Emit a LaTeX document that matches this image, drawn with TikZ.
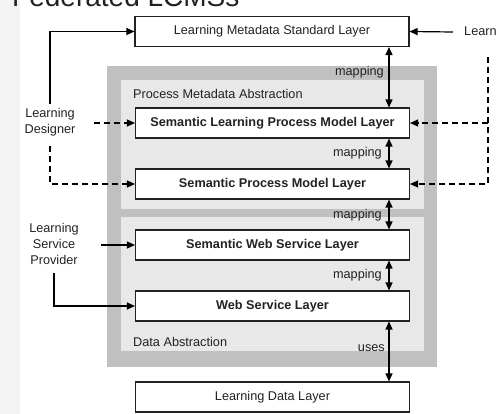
\documentclass[tikz,border=0pt]{standalone}
\usepackage{fontspec}
\setmainfont{Liberation Sans}
\usetikzlibrary{arrows.meta}
\definecolor{outergray}{HTML}{C0C0C0}
\definecolor{innergray}{HTML}{E8E8E8}
\definecolor{ink}{HTML}{222222}
\definecolor{stripgray}{HTML}{F3F3F3}
\tikzset{
  layer/.style={draw=ink, line width=1.1pt, fill=white, minimum width=274pt,
    minimum height=30pt, inner sep=0pt, text=ink, font=\fontsize{12.7}{14}\selectfont},
  boldlayer/.style={layer, font=\fontsize{12.7}{14}\selectfont\bfseries},
  actor/.style={align=center, text=ink, inner sep=2pt,
    font=\fontsize{12.7}{16}\selectfont},
  lbl/.style={text=ink, inner sep=0pt, font=\fontsize{12.7}{14}\selectfont},
  tip/.style={-{Triangle[length=8pt,width=7pt]}},
  solidarrow/.style={tip, line width=1.2pt, draw=black},
  dasharrow/.style={tip, line width=1.2pt, draw=black, dash pattern=on 6pt off 4pt},
  bothway/.style={{Triangle[length=8pt,width=7pt]}-{Triangle[length=8pt,width=7pt]},
    line width=1.3pt, draw=black},
}
\begin{document}
\begin{tikzpicture}[x=1pt, y=-1pt]
\useasboundingbox (0,0) rectangle (496,414);
\clip (0,0) rectangle (496,414);

% slide background strip and title (its upper part runs off the page)
\fill[stripgray] (0,0) rectangle (20,414);
\node[anchor=base west, inner sep=0pt, text=ink,
  font=\fontsize{28}{28}\selectfont] (title) at (12,6.5) {Federated LCMSs};

% abstraction panels
\fill[outergray] (107,66) rectangle (437,367);
\fill[innergray] (121,80) rectangle (424,209);
\fill[innergray] (121,217) rectangle (424,351);
\node[lbl, anchor=west] (pma) at (133,94) {Process Metadata Abstraction};
\node[lbl, anchor=west] (da) at (133,342) {Data Abstraction};

% layers
\node[layer] (lms) at (272,31.5) {Learning Metadata Standard Layer};
\node[boldlayer] (slpm) at (272.5,123) {Semantic Learning Process Model Layer};
\node[boldlayer] (spm) at (272.5,184) {Semantic Process Model Layer};
\node[boldlayer] (sws) at (272.5,245) {Semantic Web Service Layer};
\node[boldlayer] (ws) at (272.5,306) {Web Service Layer};
\node[layer] (ldl) at (272.5,397) {Learning Data Layer};

% actors
\node[actor] (designer) at (50,122) {Learning\\Designer};
\node[actor] (provider) at (54,244) {Learning\\Service\\Provider};
\node[actor, anchor=west] (rlearn) at (462,32) {Learning};

% vertical links between layers
\coordinate (cx) at (389,0);
\draw[bothway] (slpm.north -| cx) -- (lms.south -| cx);
\draw[bothway] (spm.north -| cx) -- (slpm.south -| cx);
\draw[bothway] (sws.north -| cx) -- (spm.south -| cx);
\draw[bothway] (ws.north -| cx) -- (sws.south -| cx);
\draw[bothway] (ldl.north -| cx) -- (ws.south -| cx);
\node[lbl, anchor=east] (m1) at (384,72) {mapping};
\node[lbl, anchor=east] (m2) at (382,153) {mapping};
\node[lbl, anchor=east] (m3) at (382,215) {mapping};
\node[lbl, anchor=east] (m4) at (382,275) {mapping};
\node[lbl, anchor=east] (uses) at (385,348) {uses};

% designer links
\draw[solidarrow, shorten <=2pt] (designer.north) |- (lms.west);
\draw[dasharrow] ([xshift=16pt]designer.east |- slpm.west) -- (slpm.west);
\draw[dasharrow, shorten <=8pt] (designer.south) |- (spm.west);

% provider links
\draw[solidarrow] ([xshift=20pt]provider.east |- sws.west) -- (sws.west);
\draw[solidarrow, shorten <=6pt] (provider.south) |- (ws.west);

% right-hand links
\coordinate (rd) at (488,57);
\draw[solidarrow] ([xshift=-9pt]rlearn.west) -- (lms.east);
\draw[dasharrow] (rd) |- (spm.east);
\draw[dasharrow] (slpm.east -| rd) -- (slpm.east);
\end{tikzpicture}
\end{document}
